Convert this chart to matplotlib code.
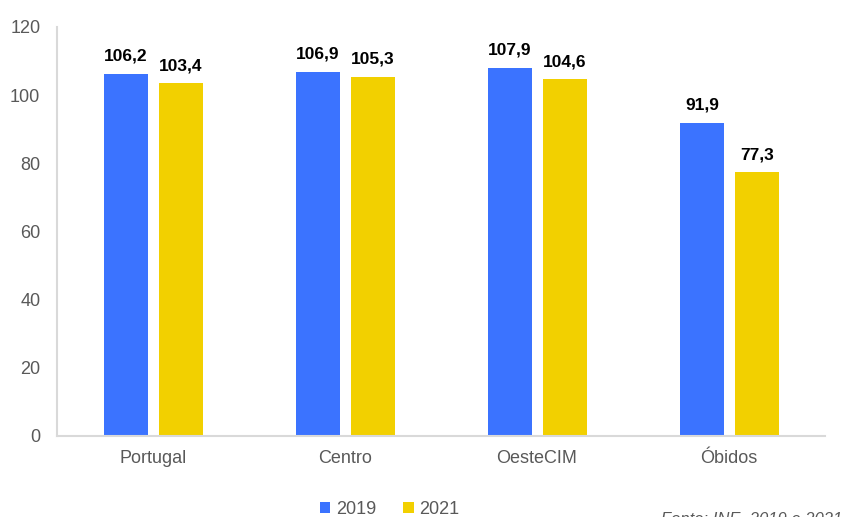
import matplotlib.pyplot as plt
import numpy as np

plt.rcParams['font.family'] = ['Liberation Sans', 'DejaVu Sans']

regioes = ['Portugal', 'Centro', 'OesteCIM', 'Óbidos']
v2019 = [106.2, 106.9, 107.9, 91.9]
v2021 = [103.4, 105.3, 104.6, 77.3]
yticks = [0, 20, 40, 60, 80, 100, 120]

azul = '#3b73ff'
amarelo = '#f2d000'
cinza = '#595959'

fig = plt.figure(figsize=(8.47, 5.17), dpi=100)
ax = fig.add_axes([0.0673, 0.1567, 0.9067, 0.7913])

x = np.arange(len(regioes))
w = 0.23
b1 = ax.bar(x - 0.14, v2019, w, color=azul, label='2019')
b2 = ax.bar(x + 0.145, v2021, w, color=amarelo, label='2021')

for bars, vals in ((b1, v2019), (b2, v2021)):
    for r, v in zip(bars, vals):
        ax.text(r.get_x() + r.get_width() / 2, v + 3, f'{v:.1f}'.replace('.', ','),
                ha='center', va='bottom', fontsize=12.5, fontweight='bold', color='black')

ax.set_xlim(-0.5, 3.5)
ax.set_ylim(0, 120)
ax.set_yticks(yticks)
ax.set_xticks(x)
ax.set_xticklabels(regioes)
ax.tick_params(length=0, labelsize=13, colors=cinza, pad=10)
ax.tick_params(axis='y', pad=12)
for s in ['top', 'right']:
    ax.spines[s].set_visible(False)
for s in ['left', 'bottom']:
    ax.spines[s].set_color('#d9d9d9')
    ax.spines[s].set_linewidth(1.5)

fig.legend(handles=[b1, b2], loc='center', bbox_to_anchor=(0.46, 0.015), ncol=2,
           frameon=False, fontsize=13, handlelength=0.6, handleheight=0.6,
           handletextpad=0.3, columnspacing=1.5, labelcolor=cinza)

fig.text(0.78, -0.005, 'Fonte: INE, 2019 e 2021', fontsize=12, style='italic', color=cinza,
         ha='left', va='center')

fig.savefig('out.png', dpi=100)
